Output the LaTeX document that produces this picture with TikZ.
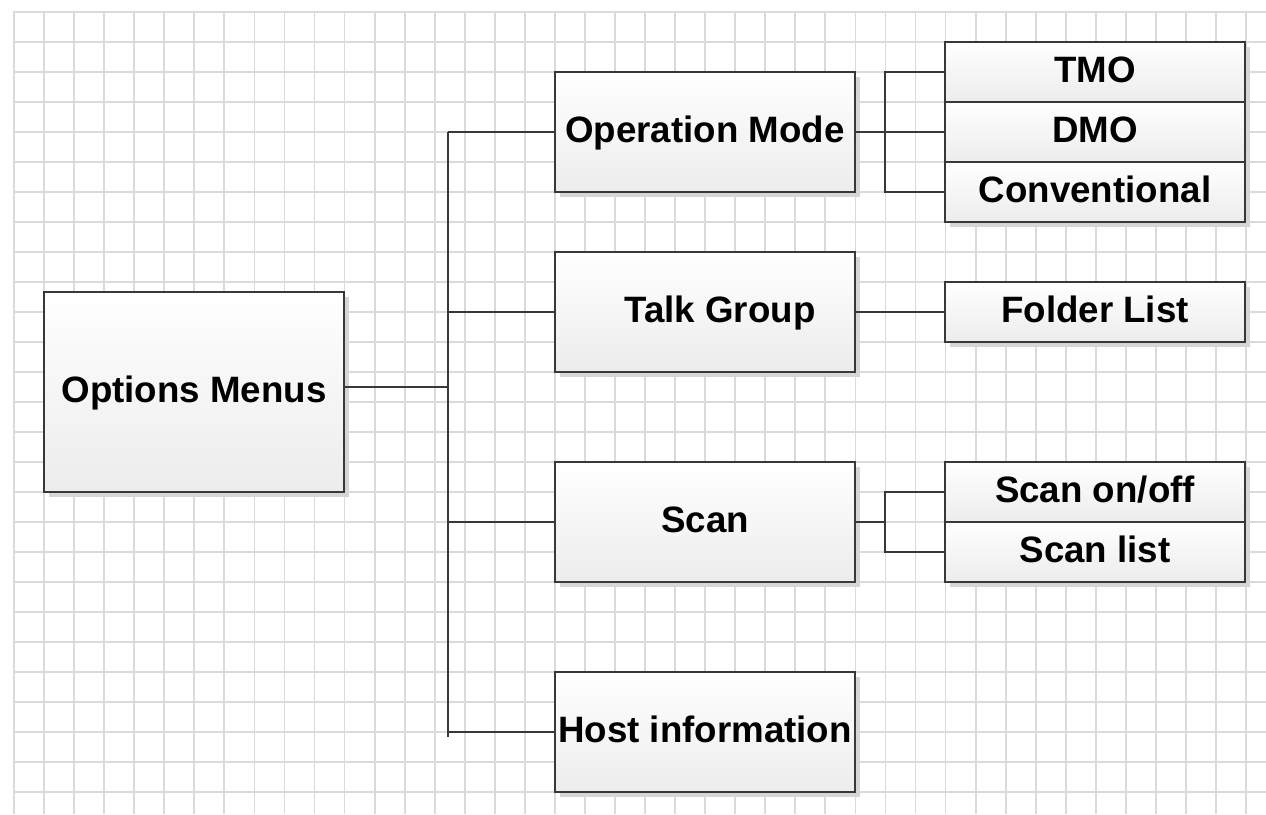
\documentclass[tikz,border=0pt]{standalone}
\usepackage{fontspec}
\setmainfont{Liberation Sans}
\usetikzlibrary{shadows}
\definecolor{gridc}{HTML}{DADADA}
\definecolor{linec}{HTML}{383838}
\definecolor{boxbot}{HTML}{ECECEC}
\tikzset{
  box/.style={draw=linec, line width=2pt, inner sep=0pt, minimum width=300pt,
    top color=white, bottom color=boxbot,
    drop shadow={shadow xshift=5pt, shadow yshift=-5pt, fill=black!16, opacity=1},
    font=\fontsize{36.7}{40}\selectfont\bfseries, text height=21pt, text depth=0pt},
  tall/.style={box, minimum height=200pt},
  mid/.style={box, minimum height=120pt},
  row/.style={box, minimum height=60pt},
  conn/.style={draw=linec, line width=2.5pt},
  gridline/.style={draw=gridc, line width=1.8pt}
}
\begin{document}
\begin{tikzpicture}[x=1pt, y=-1pt]
\useasboundingbox (0,0) rectangle (1266,814);
\fill[white] (0,0) rectangle (1266,814);
% grid
\foreach \i in {0,...,41} {
  \draw[gridline] ({14+30.05*\i},11) -- ({14+30.05*\i},814);
}
\foreach \j in {0,...,26} {
  \draw[gridline] (14,{12+30*\j}) -- (1266,{12+30*\j});
}
% nodes
\node[tall] (om) at (194,392) {Options Menus};
\node[mid] (opm) at (705,132) {Operation Mode};
\node[mid] (tg) at (705,312) {\hspace*{30pt}Talk Group};
\node[mid] (sc) at (705,522) {Scan};
\node[mid] (host) at (705,732) {Host information};
\node[row] (tmo) at (1095,72) {TMO};
\node[row] (dmo) at (1095,132) {DMO};
\node[row] (conv) at (1095,192) {Conventional};
\node[row] (fl) at (1095,312) {Folder List};
\node[row] (son) at (1095,492) {Scan on/off};
\node[row] (sl) at (1095,552) {Scan list};
% connectors
\coordinate (ttop) at (448,132);
\coordinate (tbot) at (448,737);
\coordinate (rx) at (885,0);
\coordinate (omout) at ([yshift=5pt]om.east);
\draw[conn] (ttop) -- (tbot);
\draw[conn] (omout) -- (omout -| ttop);
\draw[conn] (opm.west) -- (opm.west -| ttop);
\draw[conn] (tg.west) -- (tg.west -| ttop);
\draw[conn] (sc.west) -- (sc.west -| ttop);
\draw[conn] (host.west) -- (host.west -| ttop);
\draw[conn] (opm.east) -- (opm.east -| rx);
\draw[conn] (tmo.west) -- (tmo.west -| rx) -- (conv.west -| rx) -- (conv.west);
\draw[conn] (dmo.west) -- (dmo.west -| rx);
\draw[conn] (tg.east) -- (fl.west);
\draw[conn] (sc.east) -- (sc.east -| rx);
\draw[conn] (son.west) -- (son.west -| rx) -- (sl.west -| rx) -- (sl.west);
\end{tikzpicture}
\end{document}
